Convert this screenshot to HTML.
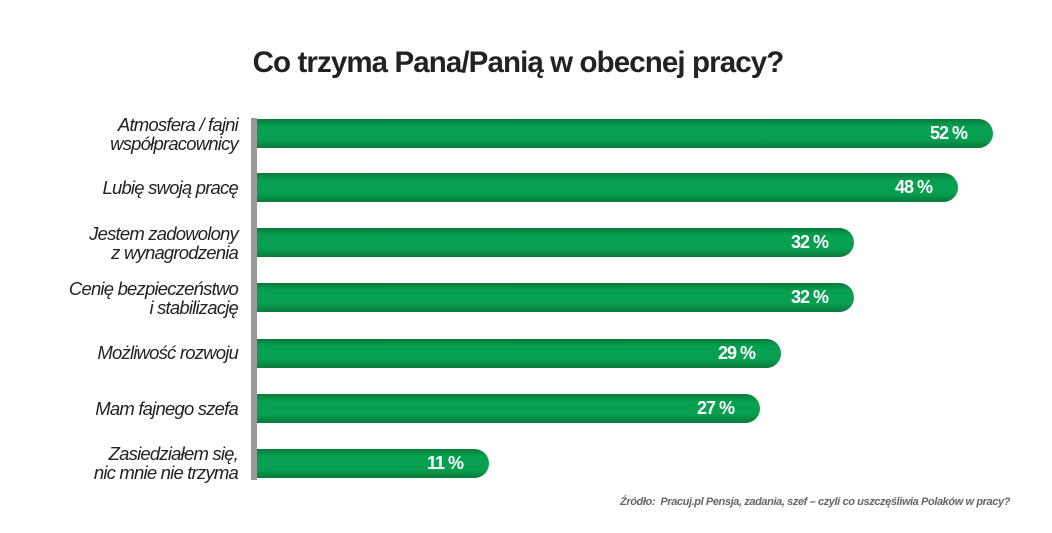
<!DOCTYPE html>
<html><head><meta charset="utf-8"><style>
body{margin:0;width:1052px;height:533px;background:#fff;font-family:"Liberation Sans",sans-serif;position:relative;overflow:hidden}
.t{position:absolute;top:46px;left:0;width:1036px;text-align:center;font-weight:bold;font-size:29.5px;color:#222;letter-spacing:-0.9px}
.ax{position:absolute;left:251px;top:118px;width:6px;height:362px;background:#999}
.b{position:absolute;left:257px;height:29px;border-radius:0 15px 15px 0;background:linear-gradient(#0a7a3a,#06a050 25%,#06a050 70%,#0a7a3a);color:#fff;font-weight:bold;font-size:18px;letter-spacing:-1px;line-height:29px;text-align:right;box-sizing:border-box;padding-right:26px}
.l{position:absolute;right:814px;width:240px;text-align:right;font-style:italic;font-size:18.5px;letter-spacing:-0.8px;color:#222;line-height:19px}
.s{position:absolute;left:620px;top:496px;font-size:11px;font-weight:bold;font-style:italic;color:#666;letter-spacing:-0.4px}
</style></head><body>
<div class="t">Co trzyma Pana/Panią w obecnej pracy?</div>
<div class="ax"></div>
<div class="l" style="top:115px">Atmosfera / fajni<br>współpracownicy</div>
<div class="b" style="top:119px;width:736px">52 %</div>
<div class="l" style="top:178px">Lubię swoją pracę</div>
<div class="b" style="top:173px;width:701px">48 %</div>
<div class="l" style="top:224px">Jestem zadowolony<br>z wynagrodzenia</div>
<div class="b" style="top:228px;width:597px">32 %</div>
<div class="l" style="top:279px">Cenię bezpieczeństwo<br>i stabilizację</div>
<div class="b" style="top:283px;width:597px">32 %</div>
<div class="l" style="top:343px">Możliwość rozwoju</div>
<div class="b" style="top:339px;width:524px">29 %</div>
<div class="l" style="top:399px">Mam fajnego szefa</div>
<div class="b" style="top:394px;width:503px">27 %</div>
<div class="l" style="top:444px">Zasiedziałem się,<br>nic mnie nie trzyma</div>
<div class="b" style="top:449px;width:232px">11 %</div>
<div class="s">Źródło:&nbsp; Pracuj.pl Pensja, zadania, szef – czyli co uszczęśliwia Polaków w pracy?</div>
</body></html>
